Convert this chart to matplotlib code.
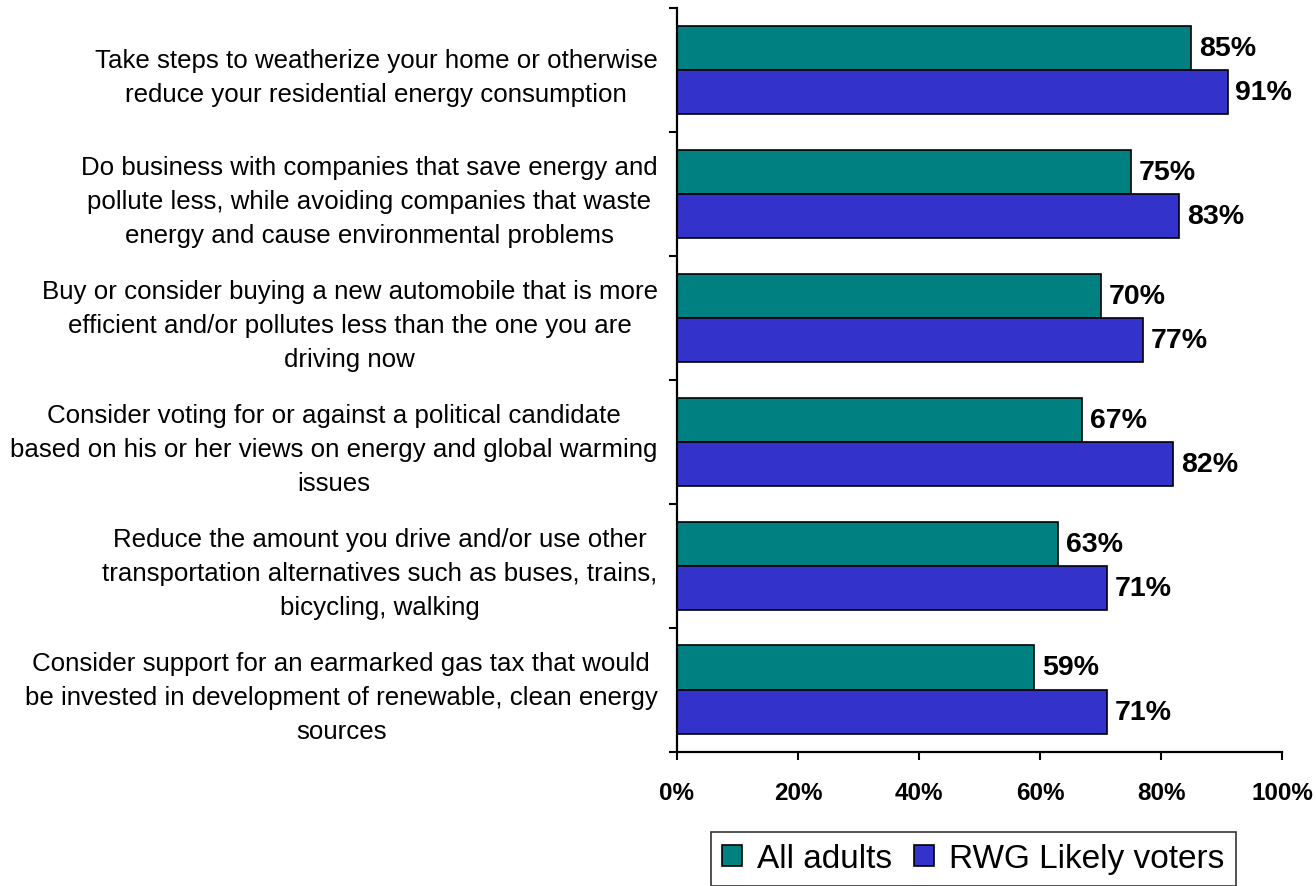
import matplotlib
matplotlib.use('Agg')
import matplotlib.pyplot as plt
from matplotlib.patches import Patch

categories = [
    "Take steps to weatherize your home or otherwise\nreduce your residential energy consumption",
    "Do business with companies that save energy and\npollute less, while avoiding companies that waste\nenergy and cause environmental problems",
    "Buy or consider buying a new automobile that is more\nefficient and/or pollutes less than the one you are\ndriving now",
    "Consider voting for or against a political candidate\nbased on his or her views on energy and global warming\nissues",
    "Reduce the amount you drive and/or use other\ntransportation alternatives such as buses, trains,\nbicycling, walking",
    "Consider support for an earmarked gas tax that would\nbe invested in development of renewable, clean energy\nsources",
]
all_adults = [85, 75, 70, 67, 63, 59]
likely_voters = [91, 83, 77, 82, 71, 71]
series_names = ['All adults', 'RWG Likely voters']
xtick_vals = [0, 20, 40, 60, 80, 100]

teal = '#008080'
blue = '#3333CC'

plt.rcParams['font.family'] = ['Liberation Sans', 'DejaVu Sans']

fig = plt.figure(figsize=(13.16, 8.87), dpi=100)
ax = fig.add_axes([677 / 1316, 1 - 752.5 / 887, 605 / 1316, 743.5 / 887])

h = 0.356
ypos = list(range(len(categories)))
ax.barh([y - h / 2 for y in ypos], all_adults, height=h, color=teal,
        edgecolor='black', linewidth=1.2)
ax.barh([y + h / 2 for y in ypos], likely_voters, height=h, color=blue,
        edgecolor='black', linewidth=1.2)

for y, v in zip(ypos, all_adults):
    ax.text(v + 1.3, y - h / 2, f'{v}%', va='center', ha='left',
            fontsize=20.5, fontweight='bold')
for y, v in zip(ypos, likely_voters):
    ax.text(v + 1.3, y + h / 2, f'{v}%', va='center', ha='left',
            fontsize=20.5, fontweight='bold')

ax.set_xlim(0, 100)
ax.set_ylim(len(categories) - 0.5, -0.5)

ax.set_yticks(ypos)
ax.set_yticklabels(categories, fontsize=18.6, ha='right',
                   multialignment='center', linespacing=1.52)
ax.tick_params(axis='y', which='major', length=0, pad=14)
ax.set_yticks([y - 0.5 for y in range(len(categories) + 1)], minor=True)
ax.tick_params(axis='y', which='minor', length=6, width=1.5, direction='out')

ax.set_xticks(xtick_vals)
ax.set_xticklabels([f'{v}%' for v in xtick_vals], fontsize=17.5, fontweight='bold')
ax.tick_params(axis='x', length=6, width=1.5, pad=15)

for s in ['top', 'right']:
    ax.spines[s].set_visible(False)
for s in ['left', 'bottom']:
    ax.spines[s].set_linewidth(1.6)

handles = [Patch(facecolor=teal, edgecolor='black', linewidth=1.2),
           Patch(facecolor=blue, edgecolor='black', linewidth=1.2)]
leg = fig.legend(handles, series_names, loc='upper left',
                 bbox_to_anchor=(710.7 / 1316, 1 - 832.7 / 887), ncol=2,
                 frameon=True, fancybox=False, borderaxespad=0,
                 prop={'size': 24},
                 handlelength=0.6, handleheight=0.6, handletextpad=0.45,
                 columnspacing=0.65, borderpad=0.35)
leg.get_frame().set_edgecolor('black')
leg.get_frame().set_linewidth(1.2)

fig.savefig('out.png', dpi=100)
